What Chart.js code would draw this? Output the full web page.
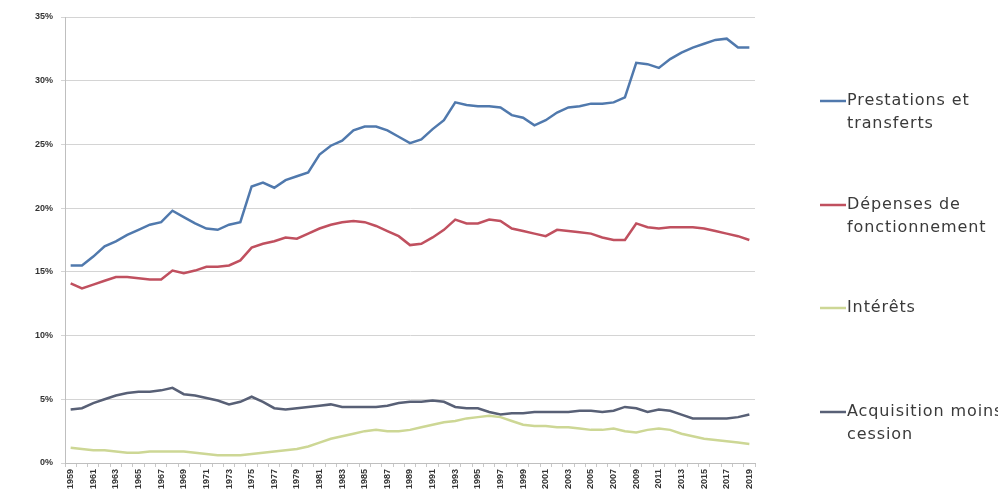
<!DOCTYPE html>
<html>
<head>
<meta charset="utf-8">
<script src="https://cdn.jsdelivr.net/npm/chart.js@4/dist/chart.umd.min.js"></script>
<style>
  html, body { margin: 0; padding: 0; background: #fff; }
  #box { width: 998px; height: 491px; position: relative; }
</style>
</head>
<body>
<div id="box"><canvas id="graf"></canvas></div>
<script>
// années 1959 -> 2019
const annees = [];
for (let a = 1959; a <= 2019; a++) annees.push(String(a));

const nomsSeries = ['Prestations et transferts', 'Dépenses de fonctionnement', 'Intérêts', 'Acquisition moins cession'];
// texte de la légende, coupé comme dans l'original
const legendeLignes = [['Prestations et', 'transferts'], ['Dépenses de', 'fonctionnement'], ['Intérêts'], ['Acquisition moins', 'cession']];
const couleurs = ['#5079ad', '#c0505f', '#cdd795', '#586076'];

const prestations = [15.5, 15.5, 16.2, 17.0, 17.4, 17.9, 18.3, 18.7, 18.9, 19.8,
  19.3, 18.8, 18.4, 18.3, 18.7, 18.9, 21.7, 22.0, 21.6, 22.2,
  22.5, 22.8, 24.2, 24.9, 25.3, 26.1, 26.4, 26.4, 26.1, 25.6,
  25.1, 25.4, 26.2, 26.9, 28.3, 28.1, 28.0, 28.0, 27.9, 27.3,
  27.1, 26.5, 26.9, 27.5, 27.9, 28.0, 28.2, 28.2, 28.3, 28.7,
  31.4, 31.3, 31.0, 31.7, 32.2, 32.6, 32.9, 33.2, 33.3, 32.6, 32.6];
const fonctionnement = [14.1, 13.7, 14.0, 14.3, 14.6, 14.6, 14.5, 14.4, 14.4, 15.1,
  14.9, 15.1, 15.4, 15.4, 15.5, 15.9, 16.9, 17.2, 17.4, 17.7,
  17.6, 18.0, 18.4, 18.7, 18.9, 19.0, 18.9, 18.6, 18.2, 17.8,
  17.1, 17.2, 17.7, 18.3, 19.1, 18.8, 18.8, 19.1, 19.0, 18.4,
  18.2, 18.0, 17.8, 18.3, 18.2, 18.1, 18.0, 17.7, 17.5, 17.5,
  18.8, 18.5, 18.4, 18.5, 18.5, 18.5, 18.4, 18.2, 18.0, 17.8, 17.5];
const interets = [1.2, 1.1, 1.0, 1.0, 0.9, 0.8, 0.8, 0.9, 0.9, 0.9,
  0.9, 0.8, 0.7, 0.6, 0.6, 0.6, 0.7, 0.8, 0.9, 1.0,
  1.1, 1.3, 1.6, 1.9, 2.1, 2.3, 2.5, 2.6, 2.5, 2.5,
  2.6, 2.8, 3.0, 3.2, 3.3, 3.5, 3.6, 3.7, 3.6, 3.3,
  3.0, 2.9, 2.9, 2.8, 2.8, 2.7, 2.6, 2.6, 2.7, 2.5,
  2.4, 2.6, 2.7, 2.6, 2.3, 2.1, 1.9, 1.8, 1.7, 1.6, 1.5];
const acquisition = [4.2, 4.3, 4.7, 5.0, 5.3, 5.5, 5.6, 5.6, 5.7, 5.9,
  5.4, 5.3, 5.1, 4.9, 4.6, 4.8, 5.2, 4.8, 4.3, 4.2,
  4.3, 4.4, 4.5, 4.6, 4.4, 4.4, 4.4, 4.4, 4.5, 4.7,
  4.8, 4.8, 4.9, 4.8, 4.4, 4.3, 4.3, 4.0, 3.8, 3.9,
  3.9, 4.0, 4.0, 4.0, 4.0, 4.1, 4.1, 4.0, 4.1, 4.4,
  4.3, 4.0, 4.2, 4.1, 3.8, 3.5, 3.5, 3.5, 3.5, 3.6, 3.8];

const valeurs = [prestations, fonctionnement, interets, acquisition];

// légende dessinée à la main (texte sur plusieurs lignes)
const legendePlugin = {
  id: 'legendeDroite',
  afterDraw(chart) {
    const ctx = chart.ctx;
    ctx.save();
    ctx.font = '16px "DejaVu Sans", sans-serif';
    ctx.letterSpacing = '0.9px';
    ctx.fillStyle = '#3a3a3a';
    ctx.textBaseline = 'middle';
    const y0 = [101, 205, 308, 412];
    legendeLignes.forEach((lignes, i) => {
      ctx.strokeStyle = couleurs[i];
      ctx.lineWidth = 2.5;
      ctx.beginPath();
      ctx.moveTo(820, y0[i]);
      ctx.lineTo(846, y0[i]);
      ctx.stroke();
      lignes.forEach((t, k) => ctx.fillText(t, 847, y0[i] + k * 23));
    });
    ctx.restore();
  }
};

const data = {
  labels: annees,
  datasets: valeurs.map((v, i) => ({
    label: nomsSeries[i],
    data: v,
    borderColor: couleurs[i],
    backgroundColor: couleurs[i],
    borderWidth: 2.5,
    pointRadius: 0,
    tension: 0,
    fill: false
  }))
};

const config = {
  type: 'line',
  data: data,
  options: {
    responsive: false,
    animation: false,
    layout: { padding: { top: 17, right: 243, bottom: 0, left: 0 } },
    plugins: { legend: { display: false }, tooltip: { enabled: false } },
    scales: {
      x: {
        offset: true,
        afterFit(s) { s.height = 28; },
        grid: { drawOnChartArea: false, tickLength: 4, color: '#c8c8c8', offset: true },
        border: { color: '#bfbfbf', width: 1 },
        ticks: {
          autoSkip: false,
          maxRotation: 90,
          minRotation: 90,
          padding: 2,
          color: '#333',
          font: { size: 9, weight: 'bold', family: '"Liberation Sans", Arial, sans-serif' },
          callback: function (val, idx) { return idx % 2 === 0 ? this.getLabelForValue(val) : ''; }
        }
      },
      y: {
        min: 0,
        max: 35,
        afterFit(s) { s.width = 65; },
        grid: { color: '#d4d4d4', tickLength: 4 },
        border: { color: '#bfbfbf', width: 1 },
        ticks: {
          stepSize: 5,
          padding: 8,
          color: '#333',
          font: { size: 9, weight: 'bold', family: '"Liberation Sans", Arial, sans-serif' },
          callback: v => v + '%'
        }
      }
    }
  },
  plugins: [legendePlugin]
};

const cv = document.getElementById('graf');
cv.width = 998;
cv.height = 491;
new Chart(cv, config);
</script>
</body>
</html>
